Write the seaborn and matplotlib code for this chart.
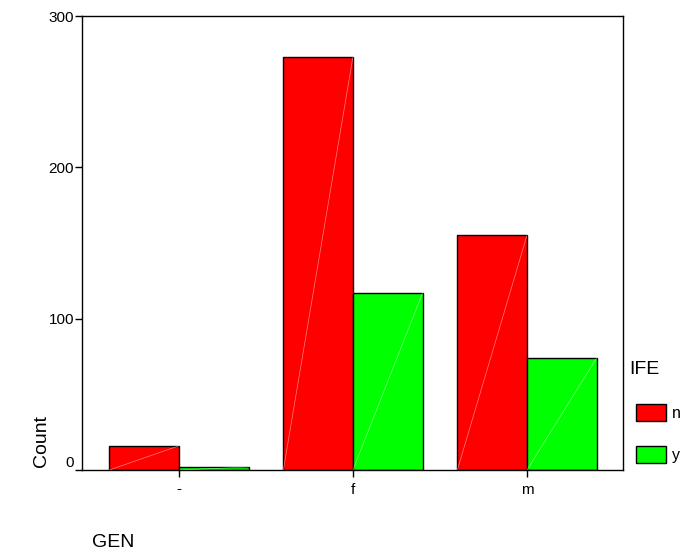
import pandas as pd
import numpy as np
import matplotlib.pyplot as plt
import seaborn as sns

# data
gen = ["-", "f", "m"]
ife = ["n", "y"]
count_n = [16, 273, 155]
count_y = [2, 117, 74]

df = pd.DataFrame({
    "GEN": gen * 2,
    "IFE": ["n"] * 3 + ["y"] * 3,
    "Count": count_n + count_y,
})

sns.set_theme(style="ticks")
plt.rcParams["font.family"] = ["Liberation Sans", "DejaVu Sans"]
plt.rcParams["text.color"] = "black"

fig = plt.figure(figsize=(6.8, 5.54), dpi=100)
ax = fig.add_axes([0.1206, 0.1516, 0.7956, 0.8195])

sns.barplot(
    data=df, x="GEN", y="Count", hue="IFE", order=gen, hue_order=ife,
    palette=["#ff0000", "#00ff00"], width=0.8, saturation=1,
    edgecolor="black", linewidth=1, ax=ax, legend=False,
)

# faint diagonal lines through the bars, like the original renderer
for p in ax.patches:
    x0, w, h = p.get_x(), p.get_width(), p.get_height()
    ax.plot([x0, x0 + w], [0, h], color="white", lw=0.5, alpha=0.5, zorder=3)

ax.set_xlim(-0.557, 2.552)
ax.set_ylim(0, 300)
ax.set_yticks([0, 100, 200, 300])
ax.tick_params(axis="both", labelsize=11, length=5, width=1, colors="black")
ax.tick_params(axis="y", pad=0.8)
ax.tick_params(axis="x", pad=4)
for lbl in ax.get_yticklabels():
    if lbl.get_text() == "0":
        lbl.set_va("bottom")
for s in ax.spines.values():
    s.set_visible(True)
    s.set_color("black")
    s.set_linewidth(1)

ax.set_xlabel("")
ax.set_ylabel("")
fig.text(33 / 680, 1 - 467 / 554, "Count", rotation=90, fontsize=14,
         ha="left", va="bottom", color="black")
fig.text(92 / 680, 1 - 547 / 554, "GEN", fontsize=14, ha="left",
         va="baseline", color="black")
fig.text(629 / 680, 1 - 369 / 554, "IFE", fontsize=14, ha="left",
         va="center", color="black")

handles = [plt.Rectangle((0, 0), 1, 1, fc=c, ec="black", lw=1)
           for c in ["#ff0000", "#00ff00"]]
leg = ax.legend(handles, ife, loc="upper left",
                bbox_to_anchor=(636 / 680, 1 - 404 / 554),
                bbox_transform=fig.transFigure, frameon=False, fontsize=11.5,
                handlelength=1.85, handleheight=1.25, handletextpad=0.4,
                labelspacing=1.6, borderpad=0, borderaxespad=0)
for t in leg.get_texts():
    t.set_color("black")

fig.savefig("out.png", dpi=100)
